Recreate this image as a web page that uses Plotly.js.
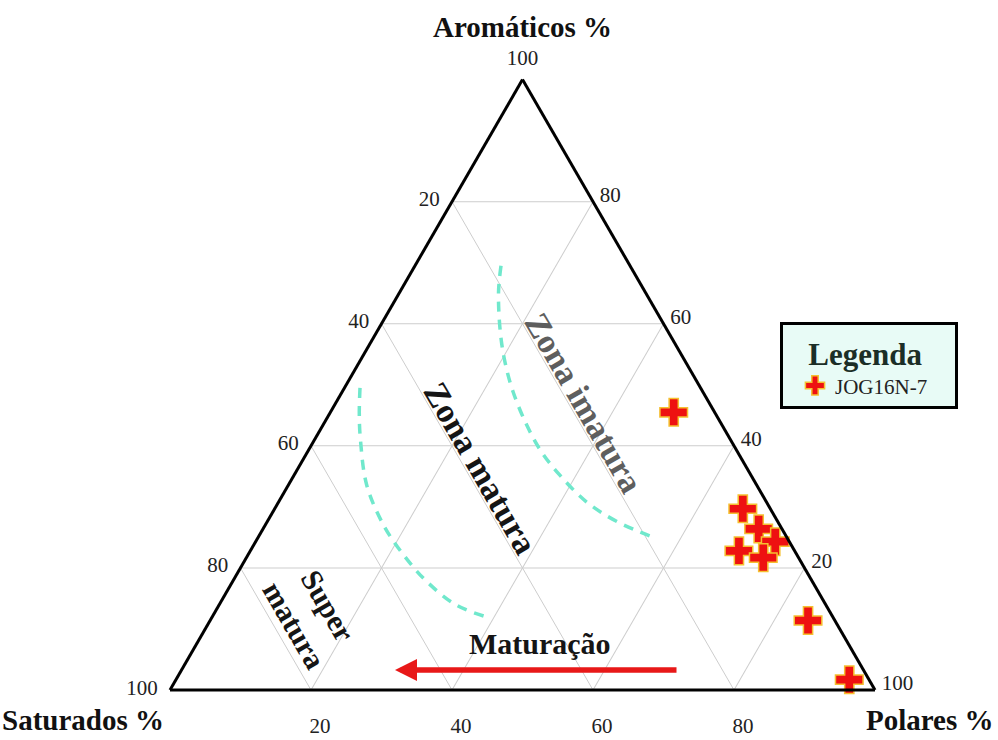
<!DOCTYPE html>
<html><head><meta charset="utf-8">
<script src="https://cdn.plot.ly/plotly-3.0.1.min.js"></script>
<style>html,body{margin:0;padding:0;background:#fff}#chart{width:998px;height:740px}</style>
</head><body><div id="chart"></div>
<script>
// ---- data (Aromáticos = a, Saturados = b, Polares = c) ----
const sampleName = 'JOG16N-7';
const sampleAro = [45.5, 29.7, 26.4, 24.3, 22.8, 21.7, 11.4, 1.7];
const sampleSat = [5.8, 3.9, 3.3, 2.0, 7.9, 5.0, 3.8, 2.8];
const samplePol = [48.7, 66.4, 70.3, 73.7, 69.3, 73.3, 84.8, 95.5];

// boundary immature / mature
const imaturaAro = [69.5, 65.2, 58.7, 53.8, 48.9, 43.4, 39.0, 35.2, 30.8, 27.6, 24.8];
const imaturaSat = [18.3, 20.8, 23.8, 25.6, 26.9, 27.7, 27.8, 27.1, 25.5, 22.8, 18.6];
const imaturaPol = [12.2, 14.0, 17.5, 20.6, 24.2, 28.9, 33.2, 37.7, 43.7, 49.6, 56.6];

// boundary mature / super mature
const maturaAro = [49.5, 45.3, 41.2, 33.6, 27.0, 22.1, 17.8, 13.9, 11.8];
const maturaSat = [48.3, 50.5, 52.4, 55.3, 56.2, 55.8, 54.7, 52.4, 48.7];
const maturaPol = [2.2, 4.2, 6.4, 11.1, 16.8, 22.1, 27.5, 33.7, 39.5];

// tick labels
const aroTickVals = [0, 20, 40, 60, 80];
const aroTickText = ['100', '80', '60', '40', '20'];   // Saturados values on left edge
const satTickVals = [80, 60, 40, 20];
const satTickText = ['20', '40', '60', '80'];          // Polares values on bottom edge
const polTickVals = [20, 40, 60, 80, 100];
const polTickText = ['80', '60', '40', '20', '100'];   // Aromáticos values on right edge
const topLabel = ['100'];

const serif = 'Liberation Serif, Times New Roman, serif';
const dashColor = '#70e8cc';

const traces = [
  {
    type: 'scatterternary', mode: 'lines',
    a: imaturaAro, b: imaturaSat, c: imaturaPol,
    line: {color: dashColor, width: 3.5, dash: '10px,8px', shape: 'spline'},
    showlegend: false, hoverinfo: 'skip'
  },
  {
    type: 'scatterternary', mode: 'lines',
    a: maturaAro, b: maturaSat, c: maturaPol,
    line: {color: dashColor, width: 3.5, dash: '10px,8px', shape: 'spline'},
    showlegend: false, hoverinfo: 'skip'
  },
  {
    type: 'scatterternary', mode: 'markers+text',
    a: [100], b: [0], c: [0], text: topLabel,
    textposition: 'top center',
    marker: {size: 14, color: 'rgba(0,0,0,0)'},
    textfont: {family: serif, size: 21, color: '#222'},
    cliponaxis: false, showlegend: false, hoverinfo: 'skip'
  },
  {
    type: 'scatterternary', mode: 'markers', name: sampleName,
    a: sampleAro, b: sampleSat, c: samplePol,
    marker: {symbol: 'cross', size: 23, color: '#ee1111', line: {color: '#f5c030', width: 1.5}},
    cliponaxis: false
  }
];

function axis(vals, txt, len) {
  return {
    min: 0,
    tickmode: 'array', tickvals: vals, ticktext: txt,
    ticks: 'outside', ticklen: len, tickcolor: 'rgba(0,0,0,0)',
    tickfont: {family: serif, size: 21, color: '#222'},
    linecolor: '#000', linewidth: 3,
    showgrid: true, gridcolor: '#cdcdcd', gridwidth: 1,
    title: {text: ''}
  };
}

function label(x, y, text, size, color, angle) {
  return {xref: 'paper', yref: 'paper', x: x / 998, y: 1 - y / 740,
          xanchor: 'center', yanchor: 'middle', text: text, showarrow: false,
          textangle: angle || 0, font: {family: serif, size: size, color: color}};
}

const layout = {
  width: 998, height: 740,
  margin: {l: 0, r: 0, t: 0, b: 0},
  paper_bgcolor: '#fff',
  font: {family: serif},
  ternary: {
    sum: 100,
    domain: {x: [170 / 998, 875 / 998], y: [0.05, 0.91]},
    bgcolor: '#fff',
    aaxis: axis(aroTickVals, aroTickText, 8),
    baxis: axis(satTickVals, satTickText, 18),
    caxis: axis(polTickVals, polTickText, 5)
  },
  showlegend: true,
  legend: {
    x: 780 / 998, y: 1 - 322 / 740, xanchor: 'left', yanchor: 'top',
    bgcolor: '#e8fbf6', bordercolor: '#000', borderwidth: 3,
    font: {family: serif, size: 21, color: '#222'},
    title: {text: '&nbsp;&nbsp;&nbsp;<b>Legenda</b>&nbsp;&nbsp;&nbsp;&nbsp;', font: {family: serif, size: 31, color: '#1b2e27'}, side: 'top'},
    itemsizing: 'trace',
    indentation: 12
  },
  annotations: [
    label(522, 27, '<b>Aromáticos %</b>', 29, '#111'),
    label(83, 720, '<b>Saturados %</b>', 29, '#111'),
    label(930, 720, '<b>Polares %</b>', 29, '#111'),
    label(584, 402, '<b>Zona imatura</b>', 34, '#5e5e5e', 60),
    label(481, 468, '<b>Zona matura</b>', 34, '#151515', 60),
    label(311, 615, '<b>Super<br>matura</b>', 30, '#151515', 60),
    label(540, 643, '<b>Maturação</b>', 30, '#151515'),
    {xref: 'paper', yref: 'paper', x: 395 / 998, y: 1 - 670 / 740, text: '',
     showarrow: true, ax: 283, ay: 0, arrowcolor: '#e81818', arrowwidth: 5.5,
     arrowhead: 2, arrowsize: 0.8, standoff: 0}
  ]
};

Plotly.newPlot('chart', traces, layout, {displayModeBar: false, staticPlot: true});
</script>
</body></html>
